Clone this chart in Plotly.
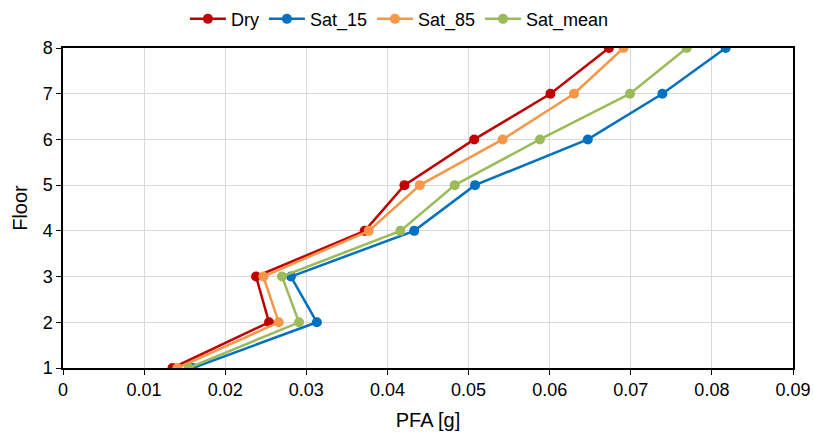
import plotly.graph_objects as go

floors = [1, 2, 3, 4, 5, 6, 7, 8]
dry = [0.0135, 0.0254, 0.0238, 0.0372, 0.0421, 0.0507, 0.0601, 0.0673]
sat_15 = [0.0160, 0.0313, 0.0281, 0.0433, 0.0508, 0.0647, 0.0739, 0.0817]
sat_85 = [0.0141, 0.0266, 0.0247, 0.0377, 0.0440, 0.0542, 0.0630, 0.0691]
sat_mean = [0.0155, 0.0291, 0.0270, 0.0416, 0.0483, 0.0588, 0.0699, 0.0769]

series = [
    ("Dry", dry, "#C00000"),
    ("Sat_15", sat_15, "#0070C0"),
    ("Sat_85", sat_85, "#F79646"),
    ("Sat_mean", sat_mean, "#9BBB59"),
]

fig = go.Figure()
for name, vals, color in series:
    fig.add_trace(go.Scatter(
        x=vals, y=floors, name=name, mode="lines+markers",
        line=dict(color=color, width=2.5),
        marker=dict(color=color, size=10),
    ))

font = "Liberation Sans, Arial, sans-serif"
fig.update_layout(
    width=814, height=434,
    margin=dict(l=63, r=21, t=48, b=66, autoexpand=False),
    paper_bgcolor="white", plot_bgcolor="white",
    font=dict(family=font, size=18, color="black"),
    showlegend=True,
    legend=dict(orientation="h", x=0.167, xanchor="left", y=1.148, yanchor="top",
                yref="paper", font=dict(size=18), itemwidth=36,
                traceorder="normal"),
    xaxis=dict(
        range=[0, 0.09], dtick=0.01, tick0=0,
        showgrid=True, gridcolor="#D9D9D9", gridwidth=1,
        showline=True, linecolor="black", linewidth=1.5, mirror=True,
        ticks="outside", ticklen=5, tickcolor="black",
        zeroline=False, automargin=False,
        title=dict(text="PFA [g]", font=dict(size=20), standoff=14),
        tickfont=dict(size=18),
    ),
    yaxis=dict(
        range=[1, 8], dtick=1, tick0=1,
        showgrid=True, gridcolor="#D9D9D9", gridwidth=1,
        showline=True, linecolor="black", linewidth=1.5, mirror=True,
        ticks="outside", ticklen=5, tickcolor="black",
        zeroline=False, automargin=False,
        title=dict(text="Floor", font=dict(size=20), standoff=10),
        tickfont=dict(size=18),
    ),
)

fig.write_html("out.html")
